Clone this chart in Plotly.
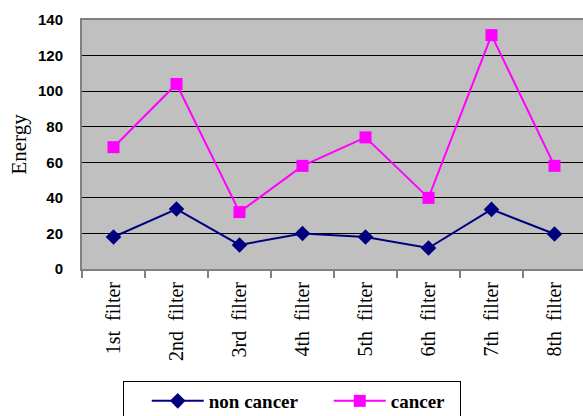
import plotly.graph_objects as go

categories = ["1st  filter", "2nd  filter", "3rd  filter", "4th  filter",
              "5th  filter", "6th  filter", "7th  filter", "8th  filter"]
non_cancer = [18, 33.7, 13.5, 20, 18, 11.8, 33.5, 19.7]
cancer = [68.5, 104, 32, 58, 74, 40, 131.5, 58]
y_ticks = [0, 20, 40, 60, 80, 100, 120, 140]

fig = go.Figure()
fig.add_trace(go.Scatter(
    x=categories, y=non_cancer, name="<b>non cancer</b>", mode="lines+markers",
    line=dict(color="#000080", width=2),
    marker=dict(symbol="diamond", size=12, color="#000080"),
    legendwidth=115,
))
fig.add_trace(go.Scatter(
    x=categories, y=cancer, name="<b>cancer</b>", mode="lines+markers",
    line=dict(color="#FF00FF", width=2),
    marker=dict(symbol="square", size=12, color="#FF00FF"),
    legendwidth=64,
))

fig.update_layout(
    width=583, height=416,
    margin=dict(l=82, r=0, t=20, b=147, autoexpand=False),
    paper_bgcolor="white",
    plot_bgcolor="#C0C0C0",
    showlegend=True,
    legend=dict(
        orientation="h",
        xref="container", yref="container",
        x=123 / 583, xanchor="left",
        y=1 - 381 / 416, yanchor="top",
        bordercolor="black", borderwidth=1,
        bgcolor="white",
        font=dict(family="Liberation Serif, serif", size=19, color="black"),
        title=dict(text="&nbsp;&nbsp;&nbsp;", side="left",
                   font=dict(family="Liberation Serif", size=17)),
        itemwidth=52,
    ),
    xaxis=dict(
        type="category",
        automargin=False,
        range=[-0.5, -0.5 + 501 / 63],
        tickangle=-90,
        tickfont=dict(family="Liberation Serif", size=20, color="black"),
        showgrid=False,
        showline=True, linecolor="#808080", linewidth=2, mirror=True,
        ticks="outside", tickson="boundaries", ticklen=7, tickcolor="#808080", tickwidth=2,
        ticklabelstandoff=3,
        zeroline=False,
    ),
    yaxis=dict(
        automargin=False,
        range=[0, 140],
        tickvals=y_ticks,
        tickfont=dict(family="Liberation Sans", size=15, color="black", weight="bold"),
        showgrid=True, gridcolor="black", gridwidth=1,
        showline=True, linecolor="#808080", linewidth=2, mirror=False,
        ticks="", ticklabelstandoff=14,
        zeroline=False,
        title=dict(text="Energy", font=dict(family="Liberation Serif", size=21, color="black"),
                   standoff=6),
    ),
)

fig.write_html("out.html", config={"displayModeBar": False},
               post_script="document.body.style.margin='0';document.body.style.overflow='hidden';")
